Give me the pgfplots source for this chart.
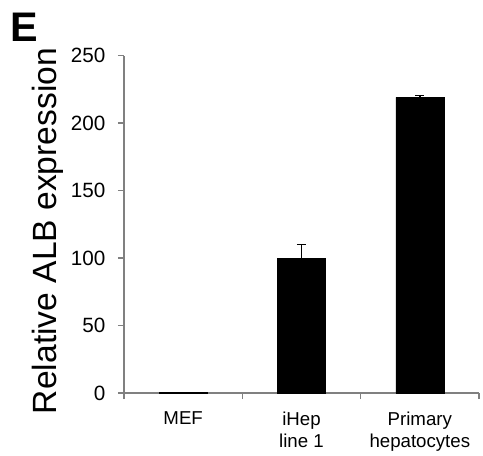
\documentclass[border=0pt]{standalone}
\usepackage{pgfplots}
\pgfplotsset{compat=1.18}
\usepackage{fontspec}
\setmainfont{Liberation Sans}
\begin{document}
\begin{tikzpicture}[x=1pt,y=1pt]
\useasboundingbox (-93pt,-46.5pt) rectangle (269.25pt,294.75pt);
\begin{axis}[
  at={(0,0)}, anchor=south west,
  scale only axis,
  width=266.25pt, height=253.1pt,
  xmin=-0.5, xmax=2.5,
  ymin=0, ymax=250,
  ytick={0,50,100,150,200,250},
  xtick={0,1,2},
  xticklabels={MEF,{iHep\\line 1},{Primary\\hepatocytes}},
  xticklabel style={align=center, font=\fontsize{14}{17}\selectfont, text=black},
  yticklabel style={font=\fontsize{15.5}{18}\selectfont, text=black},
  /pgf/number format/assume math mode=true,
  axis x line*=bottom, axis y line*=left,
  axis line style={draw=black!50, line width=0.8pt, -},
  tick align=outside,
  major tick length=4.5pt,
  ytick style={draw=black!50, line width=0.8pt},
  xtick style={draw=none},
  extra x ticks={-0.5,0.5,1.5,2.5},
  extra x tick labels={},
  extra x tick style={xtick style={draw=black!50, line width=0.8pt}},
  xticklabel shift=6pt,
  yticklabel shift=6pt,
  ylabel={Relative ALB expression},
  every axis y label/.style={at={(ticklabel cs:0.48)}, rotate=90,
    anchor=near ticklabel, yshift=-1pt,
    font=\fontsize{25.2}{28}\selectfont},
  clip=false,
]
% MEF: no visible error bar
\addplot[ybar, bar width=36pt, fill=black, draw=black]
  coordinates {(0,0.3)};
\addplot[ybar, bar width=36pt, fill=black, draw=black,
  error bars/.cd, y dir=plus, y explicit,
  error bar style={line width=1.1pt, black},
  error mark options={rotate=90, line width=1.1pt, black, mark size=3.4pt}]
  coordinates {
    (1,100) +- (0,10)
    (2,219) +- (0,1.5)
  };
\end{axis}
\node[anchor=north west, inner sep=0pt, font=\fontsize{31}{34}\bfseries] at (-85.5pt,285pt) {E};
\end{tikzpicture}
\end{document}
